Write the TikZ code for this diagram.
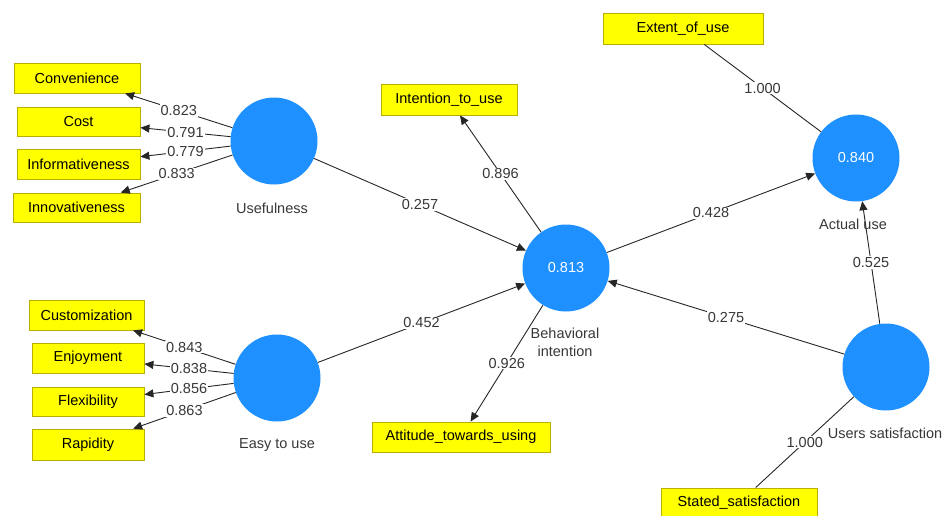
\documentclass[tikz,border=0pt]{standalone}
\usepackage{fontspec}
\setmainfont{Liberation Sans}
\usetikzlibrary{arrows.meta}
\definecolor{lvblue}{RGB}{30,144,255}
\definecolor{boxyellow}{RGB}{255,255,0}
\definecolor{boxedge}{RGB}{185,175,0}
\definecolor{lbl}{RGB}{55,55,55}
\newcommand\myfs{\fontsize{14.5}{17}\selectfont}
\begin{document}
\begin{tikzpicture}[x=1pt,y=-1pt,
  lv/.style={circle, fill=lvblue, minimum size=87pt, inner sep=0pt, text=white, font=\myfs},
  ind/.style={rectangle, fill=boxyellow, draw=boxedge, line width=0.8pt, inner sep=0pt, font=\myfs},
  conn/.style={draw=black!85, line width=0.9pt},
  arr/.style={conn, -{Triangle[length=9pt,width=8pt]}},
  w/.style={fill=white, inner sep=1pt, text=lbl, font=\myfs},
  lvcap/.style={text=lbl, font=\myfs, align=center}]
\useasboundingbox (0,0) rectangle (945,515);
% latent variables
\node[lv] (U) at (274,141) {};
\node[lv] (E) at (277,378) {};
\node[lv] (BI) at (566,268) {0.813};
\node[lv] (AU) at (856,158) {0.840};
\node[lv] (US) at (886,367) {};
% captions
\node[lvcap] (capU) at (272,208) {Usefulness};
\node[lvcap] (capE) at (277,445) {Easy to use};
\node[lvcap] (capBI) at (565,342) {Behavioral\\[1pt]intention};
\node[lvcap] (capAU) at (853,224) {Actual use};
\node[lvcap] (capUS) at (885,433) {Users satisfaction};
% indicators
\node[ind, minimum width=126pt, minimum height=30pt] (conv) at (77,78) {Convenience};
\node[ind, minimum width=123pt, minimum height=29pt] (cost) at (78.5,121.5) {Cost};
\node[ind, minimum width=123pt, minimum height=30pt] (info) at (78.5,164) {Informativeness};
\node[ind, minimum width=127pt, minimum height=29pt] (innov) at (76.5,207.5) {Innovativeness};
\node[ind, minimum width=115pt, minimum height=30pt] (cust) at (86.5,315) {Customization};
\node[ind, minimum width=112pt, minimum height=30pt] (enjoy) at (88,358) {Enjoyment};
\node[ind, minimum width=112pt, minimum height=29pt] (flex) at (88,401.5) {Flexibility};
\node[ind, minimum width=112pt, minimum height=31pt] (rapid) at (88,444.5) {Rapidity};
\node[ind, minimum width=136pt, minimum height=31pt] (intent) at (449,99.5) {Intention\_to\_use};
\node[ind, minimum width=178pt, minimum height=30pt] (attit) at (461,437) {Attitude\_towards\_using};
\node[ind, minimum width=160pt, minimum height=31pt] (extent) at (683,28.5) {Extent\_of\_use};
\node[ind, minimum width=156pt, minimum height=30pt] (stated) at (739,503) {Stated\_satisfaction};
% outer loadings
\draw[arr] (U) -- node[w] {0.823} (conv);
\draw[arr] (U) -- node[w] {0.791} (cost);
\draw[arr] (U) -- node[w] {0.779} (info);
\draw[arr] (U) -- node[w] {0.833} (innov);
\draw[arr] (E) -- node[w] {0.843} (cust);
\draw[arr] (E) -- node[w] {0.838} (enjoy);
\draw[arr] (E) -- node[w] {0.856} (flex);
\draw[arr] (E) -- node[w] {0.863} (rapid);
\draw[arr] (BI) -- node[w] {0.896} (intent);
\draw[arr] (BI) -- node[w] {0.926} (attit);
\draw[conn] (extent) -- node[w] {1.000} (AU);
\draw[conn] (stated) -- node[w] {1.000} (US);
% paths
\draw[arr] (U) -- node[w] {0.257} (BI);
\draw[arr] (E) -- node[w] {0.452} (BI);
\draw[arr] (BI) -- node[w] {0.428} (AU);
\draw[arr] (US) -- node[w] {0.275} (BI);
\draw[arr] (US) -- node[w] {0.525} (AU);
\end{tikzpicture}
\end{document}
